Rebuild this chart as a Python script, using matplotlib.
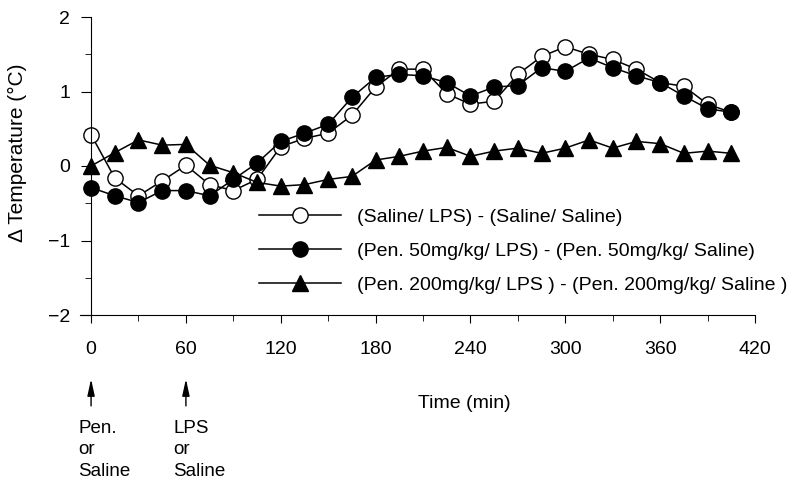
import numpy as np
import matplotlib
matplotlib.use("Agg")
import matplotlib.pyplot as plt
from matplotlib.ticker import MultipleLocator

plt.rcParams['font.family'] = ['Liberation Sans', 'DejaVu Sans']

# time points (min)
time = list(range(0, 406, 15))

# (Saline/ LPS) - (Saline/ Saline)
saline = [0.42, -0.16, -0.40, -0.20, 0.01, -0.25, -0.33, -0.18, 0.26, 0.37,
          0.44, 0.68, 1.06, 1.30, 1.30, 0.97, 0.83, 0.87, 1.23, 1.47,
          1.60, 1.50, 1.43, 1.30, 1.12, 1.07, 0.83, 0.72]
# (Pen. 50mg/kg/ LPS) - (Pen. 50mg/kg/ Saline)
pen50 = [-0.29, -0.40, -0.49, -0.33, -0.33, -0.40, -0.18, 0.04, 0.33, 0.44,
         0.56, 0.92, 1.19, 1.23, 1.21, 1.12, 0.94, 1.06, 1.08, 1.32,
         1.27, 1.45, 1.32, 1.21, 1.12, 0.94, 0.77, 0.72]
# (Pen. 200mg/kg/ LPS) - (Pen. 200mg/kg/ Saline)
pen200 = [0.00, 0.18, 0.35, 0.28, 0.29, 0.01, -0.09, -0.22, -0.27, -0.25,
          -0.18, -0.14, 0.08, 0.13, 0.20, 0.25, 0.13, 0.20, 0.24, 0.17,
          0.24, 0.35, 0.24, 0.33, 0.30, 0.17, 0.20, 0.17]

labels = ["(Saline/ LPS) - (Saline/ Saline)",
          "(Pen. 50mg/kg/ LPS) - (Pen. 50mg/kg/ Saline)",
          "(Pen. 200mg/kg/ LPS ) - (Pen. 200mg/kg/ Saline )"]

fig = plt.figure(figsize=(7.95, 4.8), dpi=100)
ax = fig.add_axes([80 / 795, 1 - 315 / 480, 675 / 795, 298 / 480])

ax.plot(time, saline, '-o', color='black', mfc='white', mec='black',
        ms=11, lw=1.1, mew=1.0, clip_on=False, label=labels[0])
ax.plot(time, pen50, '-o', color='black', mfc='black', mec='black',
        ms=11, lw=1.1, clip_on=False, label=labels[1])
ax.plot(time, pen200, '-^', color='black', mfc='black', mec='black',
        ms=11, lw=1.1, clip_on=False, label=labels[2])

ax.set_xlim(-7, 420)
ax.set_ylim(-2, 2)
ax.spines['top'].set_visible(False)
ax.spines['right'].set_visible(False)
ax.spines['left'].set_position(('data', 0))

ax.xaxis.set_major_locator(MultipleLocator(60))
ax.xaxis.set_minor_locator(MultipleLocator(30))
ax.yaxis.set_major_locator(MultipleLocator(1))
ax.yaxis.set_minor_locator(MultipleLocator(0.5))
ax.tick_params(axis='x', which='major', direction='out', length=6, pad=13, labelsize=14)
ax.tick_params(axis='x', which='minor', direction='out', length=4)
ax.tick_params(axis='y', which='major', direction='out', length=7, pad=8, labelsize=14)
ax.tick_params(axis='y', which='minor', direction='out', length=4)

ax.set_xlabel("Time (min)", fontsize=14)
ax.xaxis.set_label_coords(0.57, -0.267)
ax.set_ylabel("\u0394 Temperature (\u00b0C)", fontsize=15)
ax.yaxis.set_label_coords(-0.078, 0.545)

ax.legend(loc='upper left', bbox_to_anchor=(0.265, 0.357), frameon=False,
          fontsize=14, handlelength=4.2, handletextpad=0.86, labelspacing=0.83,
          borderpad=0, borderaxespad=0)

# injection arrows
xt = ax.get_xaxis_transform()
for t0, txt in [(0, "Pen.\nor\nSaline"), (60, "LPS\nor\nSaline")]:
    ax.annotate("", xy=(t0, -0.215), xycoords=xt, xytext=(t0, -0.305),
                textcoords=xt,
                arrowprops=dict(arrowstyle='-|>,head_length=1.0,head_width=0.22',
                                color='black', lw=1.0, shrinkA=0, shrinkB=0))
    ax.annotate(txt, xy=(t0, -0.353), xycoords=xt, xytext=(-9, 0),
                textcoords='offset points', ha='left', va='top',
                fontsize=13.5, linespacing=1.33, annotation_clip=False)

fig.savefig("out.png", dpi=100)
